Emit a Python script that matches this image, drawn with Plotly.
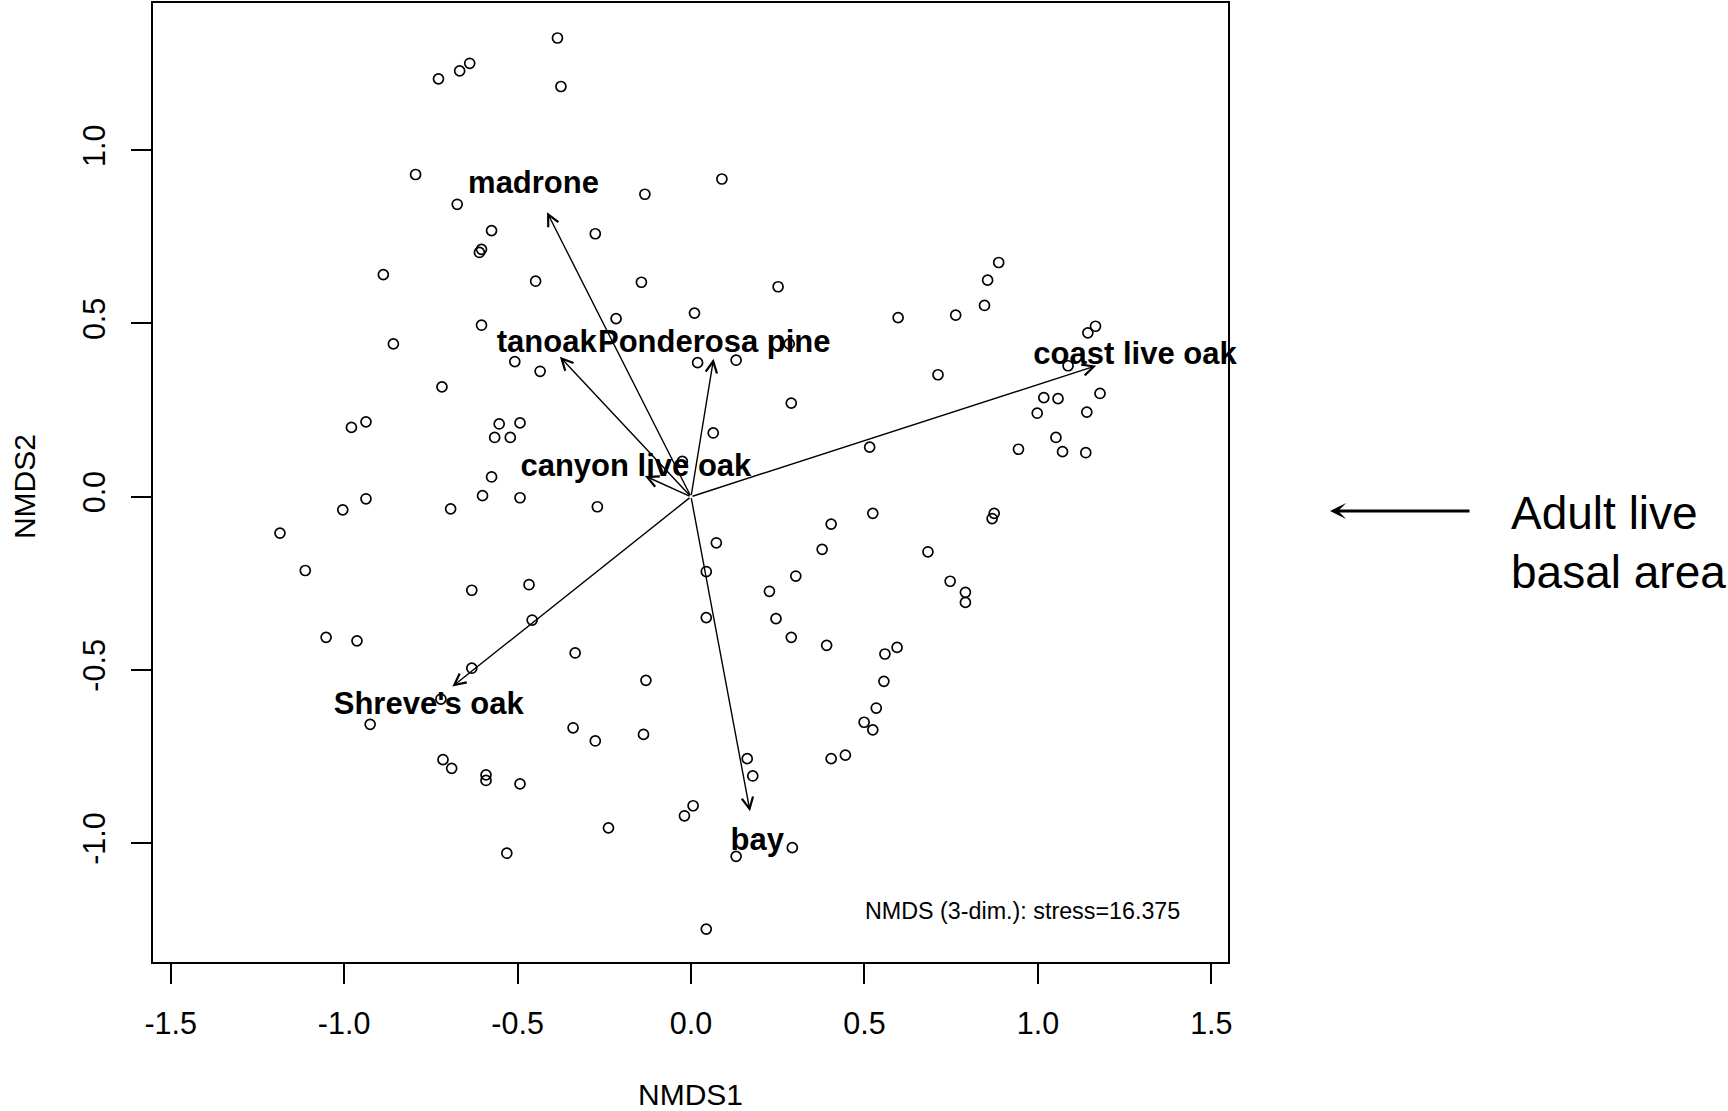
import plotly.graph_objects as go

# ---- site scores (NMDS1, NMDS2) ----
site_x = [-0.385, -0.728, -0.667, -0.638, -0.375, -0.794, -0.674, -0.133, 0.089, -0.575,
          -0.276, -0.604, -0.610, -0.887, -0.448, -0.143, 0.251, -0.858, -0.604, -0.216,
          0.010, -0.718, -0.508, -0.435, 0.019, 0.130, 0.283, 0.289, 0.064, -0.979,
          -0.937, -0.553, -0.493, -0.566, -0.521, -0.575, -0.025, -1.185, -1.112, -1.004,
          -0.937, -0.693, -0.601, -0.493, -0.270, -0.632, -0.467, -0.458, -1.052, -0.963,
          -0.632, -0.334, -0.130, -0.721, -0.925, -0.340, -0.276, -0.137, -0.715, -0.690,
          -0.591, -0.591, -0.493, -0.238, -0.531, -0.019, 0.006, 0.162, 0.178, 0.130,
          0.292, 0.044, 0.073, 0.044, 0.044, 0.226, 0.245, 0.302, 0.289, 0.378,
          0.404, 0.391, 0.524, 0.559, 0.594, 0.556, 0.534, 0.499, 0.524, 0.404,
          0.445, 0.683, 0.747, 0.791, 0.791, 0.874, 0.868, 0.515, 0.597, 0.712,
          0.763, 0.846, 0.855, 0.887, 0.944, 0.998, 1.017, 1.058, 1.052, 1.071,
          1.138, 1.141, 1.179, 1.087, 1.144, 1.166]
site_y = [1.324, 1.206, 1.229, 1.251, 1.184, 0.930, 0.844, 0.873, 0.917, 0.768,
          0.759, 0.714, 0.705, 0.641, 0.622, 0.619, 0.606, 0.441, 0.495, 0.514,
          0.530, 0.317, 0.390, 0.362, 0.387, 0.394, 0.441, 0.270, 0.184, 0.200,
          0.216, 0.210, 0.213, 0.171, 0.171, 0.057, 0.102, -0.105, -0.213, -0.038,
          -0.006, -0.035, 0.003, -0.003, -0.029, -0.270, -0.254, -0.356, -0.406, -0.416,
          -0.495, -0.451, -0.530, -0.584, -0.657, -0.667, -0.705, -0.686, -0.759, -0.784,
          -0.803, -0.819, -0.829, -0.956, -1.029, -0.921, -0.892, -0.756, -0.806, -1.038,
          -1.013, -1.248, -0.133, -0.216, -0.349, -0.273, -0.352, -0.229, -0.406, -0.152,
          -0.079, -0.429, -0.048, -0.454, -0.435, -0.533, -0.610, -0.651, -0.673, -0.756,
          -0.746, -0.159, -0.244, -0.276, -0.305, -0.048, -0.063, 0.143, 0.517, 0.352,
          0.524, 0.552, 0.625, 0.676, 0.137, 0.241, 0.286, 0.283, 0.171, 0.130,
          0.127, 0.244, 0.298, 0.378, 0.473, 0.492]

# ---- species vectors (envfit arrows) ----
species = ["madrone", "tanoak", "Ponderosa pine", "coast live oak",
           "canyon live oak", "Shreve's oak", "bay"]
vec_x = [-0.415, -0.378, 0.065, 1.168, -0.133, -0.688, 0.170]
vec_y = [0.821, 0.404, 0.398, 0.378, 0.060, -0.548, -0.908]
label_x = [-0.454, -0.416, 0.067, 1.280, -0.159, -0.756, 0.191]
label_y = [0.900, 0.441, 0.441, 0.406, 0.083, -0.606, -0.997]

x_ticks = [-1.5, -1.0, -0.5, 0.0, 0.5, 1.0, 1.5]
y_ticks = [-1.0, -0.5, 0.0, 0.5, 1.0]

FONT = "Liberation Sans, Arial, sans-serif"

fig = go.Figure()
fig.add_trace(go.Scatter(
    x=site_x, y=site_y, mode="markers",
    marker=dict(symbol="circle-open", size=10, color="black", line=dict(width=1.7, color="black")),
    showlegend=False, hoverinfo="skip"))

for sx, sy in zip(vec_x, vec_y):
    fig.add_annotation(x=sx, y=sy, ax=0, ay=0, xref="x", yref="y", axref="x", ayref="y",
                       showarrow=True, arrowhead=5, arrowsize=1.6, arrowwidth=1.4,
                       arrowcolor="black", text="")

fig.add_trace(go.Scatter(
    x=label_x, y=label_y, mode="text", text=species, cliponaxis=False,
    textfont=dict(family=FONT, size=31, color="black", weight="bold"),
    textposition="middle center", showlegend=False, hoverinfo="skip"))

fig.add_annotation(text="NMDS (3-dim.): stress=16.375", xref="paper", yref="paper",
                   x=0.809, y=0.053, xanchor="center", yanchor="middle", showarrow=False,
                   font=dict(family=FONT, size=23.3, color="black"))

fig.add_annotation(text="NMDS1", xref="paper", yref="paper", x=0.5, y=-0.1378,
                   xanchor="center", yanchor="middle", showarrow=False,
                   font=dict(family=FONT, size=30, color="black"))
fig.add_annotation(text="NMDS2", xref="paper", yref="paper", x=-0.1193, y=0.496,
                   xanchor="center", yanchor="middle", showarrow=False, textangle=-90,
                   font=dict(family=FONT, size=30, color="black"))

# side note with arrow
fig.add_annotation(text="", xref="paper", yref="paper", x=1.0949, y=0.4703,
                   ax=141, ay=0, showarrow=True, arrowhead=3, arrowsize=0.9,
                   arrowwidth=3, arrowcolor="black")
fig.add_annotation(text="Adult live", xref="paper", yref="paper", x=1.2614, y=0.4683,
                   xanchor="left", yanchor="middle", showarrow=False,
                   font=dict(family=FONT, size=46, color="black"))
fig.add_annotation(text="basal area", xref="paper", yref="paper", x=1.2614, y=0.4069,
                   xanchor="left", yanchor="middle", showarrow=False,
                   font=dict(family=FONT, size=46, color="black"))

axis_common = dict(showgrid=False, zeroline=False, showline=True, mirror=True,
                   linecolor="black", linewidth=2, ticks="outside", ticklen=20,
                   tickwidth=1.5, tickcolor="black",
                   tickfont=dict(family=FONT, size=30.5, color="black"))
fig.update_xaxes(range=[-1.551, 1.548], tickvals=x_ticks,
                 ticktext=[f"{v:.1f}" for v in x_ticks], ticklabelstandoff=13, **axis_common)
fig.update_yaxes(range=[-1.343, 1.425], tickvals=y_ticks,
                 ticktext=[f"{v:.1f}" for v in y_ticks], tickangle=-90,
                 ticklabelstandoff=14, **axis_common)

fig.update_layout(width=1728, height=1111, margin=dict(l=153, r=500, t=1, b=149),
                  plot_bgcolor="white", paper_bgcolor="white", showlegend=False)

fig.write_html("out.html")
